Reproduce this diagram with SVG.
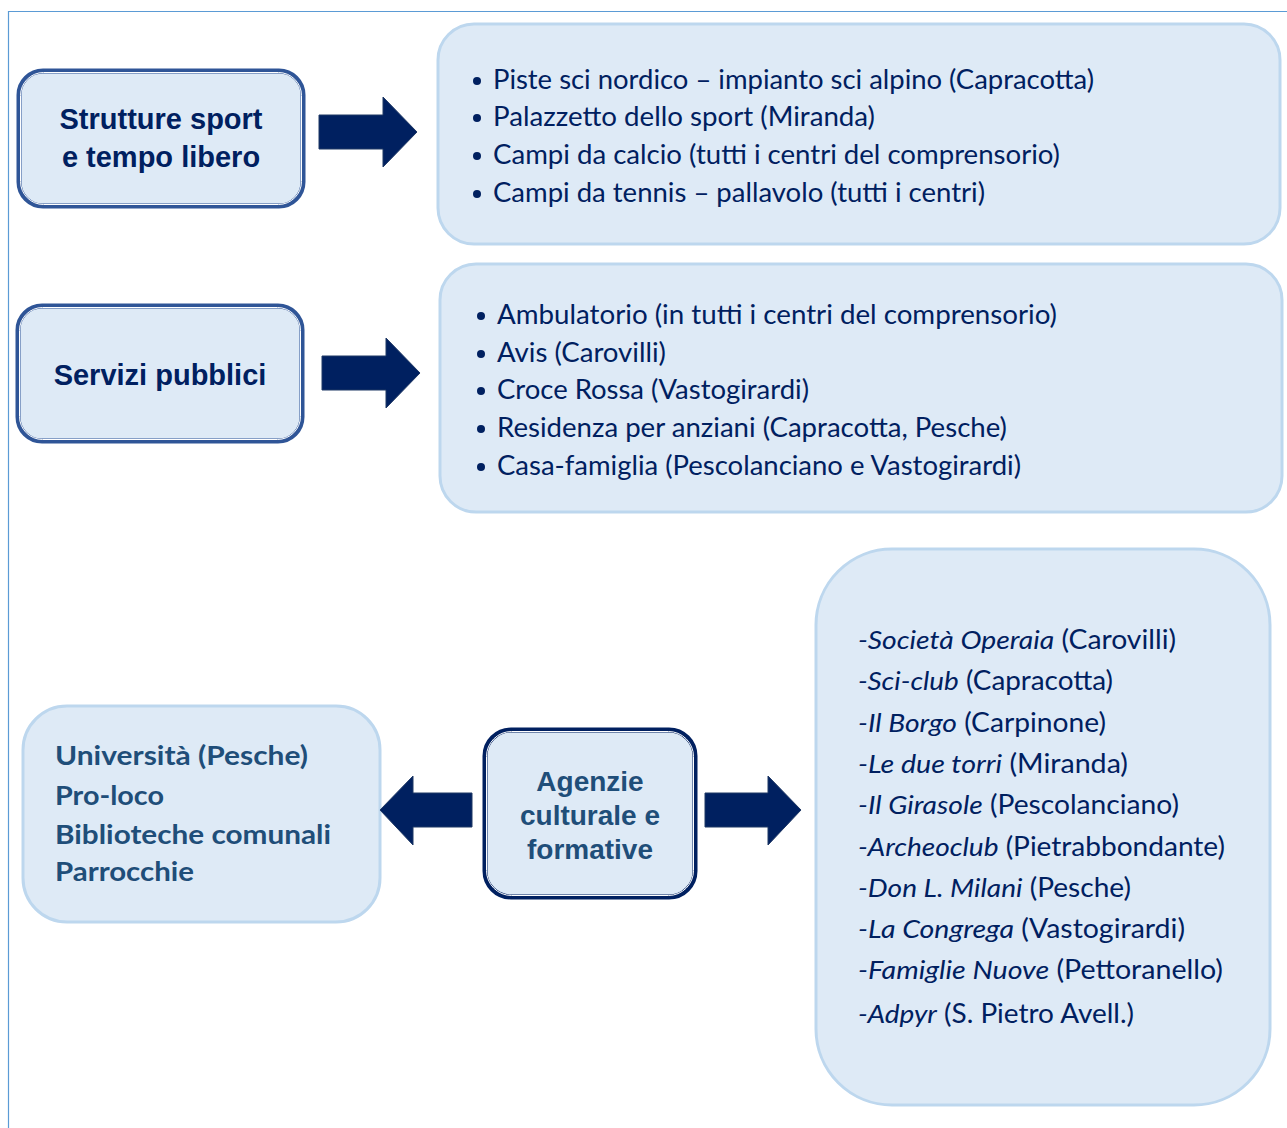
<svg xmlns="http://www.w3.org/2000/svg" width="1287" height="1128" viewBox="0 0 1287 1128">
<style>
.light{fill:#DEEAF6;stroke:#BDD7EE;stroke-width:3}
.dark{fill:#DEEAF6;stroke:#2F5597;stroke-width:5}
.darker{fill:#DEEAF6;stroke:#002060;stroke-width:5}
.gap{fill:none;stroke:#FFFFFF;stroke-width:1}
.head{font-family:"Liberation Sans",Arial,sans-serif;font-weight:bold;font-size:29px;fill:#002060;text-anchor:middle}
.ag{font-family:"Liberation Sans",Arial,sans-serif;font-weight:bold;font-size:28px;fill:#1F4E79;text-anchor:middle}
.list{font-family:Lato,"Open Sans",sans-serif;font-size:26px;fill:#002060}
.sub{font-family:Lato,"Open Sans",sans-serif;font-size:27px;font-weight:bold;fill:#1F4E79}
.bul{fill:#002060}
.arrow{fill:#002060;stroke:#1F3864;stroke-width:1}
</style>
<rect width="1287" height="1128" fill="#FFFFFF"/>
<g id="page-border" fill="none" stroke="#5B9BD5" stroke-width="1.2">
<line x1="8" y1="11.5" x2="1287" y2="11.5"/>
<line x1="8.5" y1="11" x2="8.5" y2="1128"/>
</g>

<g id="node-sport">
<rect class="dark" x="19" y="71" width="284" height="135" rx="24"/>
<rect class="gap" x="20.5" y="72.5" width="281" height="132" rx="23"/>
<text class="head" x="161" y="129">Strutture sport</text>
<text class="head" x="161" y="167">e tempo libero</text>
</g>

<g id="node-sport-list">
<rect class="light" x="438" y="24" width="842" height="220" rx="36"/>
<circle class="bul" cx="477" cy="81" r="4"/>
<circle class="bul" cx="477" cy="118" r="4"/>
<circle class="bul" cx="477" cy="156" r="4"/>
<circle class="bul" cx="477" cy="194" r="4"/>
<text class="list" x="493" y="89" textLength="601" lengthAdjust="spacingAndGlyphs">Piste sci nordico – impianto sci alpino (Capracotta)</text>
<text class="list" x="493" y="126" textLength="382" lengthAdjust="spacingAndGlyphs">Palazzetto dello sport (Miranda)</text>
<text class="list" x="493" y="164" textLength="567" lengthAdjust="spacingAndGlyphs">Campi da calcio (tutti i centri del comprensorio)</text>
<text class="list" x="493" y="202" textLength="492" lengthAdjust="spacingAndGlyphs">Campi da tennis – pallavolo (tutti i centri)</text>
</g>

<g id="node-servizi">
<rect class="dark" x="18" y="306" width="284" height="135" rx="24"/>
<rect class="gap" x="19.5" y="307.5" width="281" height="132" rx="23"/>
<text class="head" x="160" y="385">Servizi pubblici</text>
</g>

<g id="node-servizi-list">
<rect class="light" x="440" y="264" width="842" height="248" rx="36"/>
<circle class="bul" cx="481" cy="316" r="4"/>
<circle class="bul" cx="481" cy="354" r="4"/>
<circle class="bul" cx="481" cy="391" r="4"/>
<circle class="bul" cx="481" cy="429" r="4"/>
<circle class="bul" cx="481" cy="467" r="4"/>
<text class="list" x="497" y="324" textLength="560" lengthAdjust="spacingAndGlyphs">Ambulatorio (in tutti i centri del comprensorio)</text>
<text class="list" x="497" y="362" textLength="169" lengthAdjust="spacingAndGlyphs">Avis (Carovilli)</text>
<text class="list" x="497" y="399" textLength="312" lengthAdjust="spacingAndGlyphs">Croce Rossa (Vastogirardi)</text>
<text class="list" x="497" y="437" textLength="510" lengthAdjust="spacingAndGlyphs">Residenza per anziani (Capracotta, Pesche)</text>
<text class="list" x="497" y="475" textLength="524" lengthAdjust="spacingAndGlyphs">Casa-famiglia (Pescolanciano e Vastogirardi)</text>
</g>

<g id="node-universita">
<rect class="light" x="23" y="706" width="357" height="216" rx="44"/>
<text class="sub" x="55" y="765" textLength="253" lengthAdjust="spacingAndGlyphs">Università (Pesche)</text>
<text class="sub" x="55" y="805" textLength="109" lengthAdjust="spacingAndGlyphs">Pro-loco</text>
<text class="sub" x="55" y="844" textLength="276" lengthAdjust="spacingAndGlyphs">Biblioteche comunali</text>
<text class="sub" x="55" y="881" textLength="139" lengthAdjust="spacingAndGlyphs">Parrocchie</text>
</g>

<g id="node-agenzie">
<rect class="darker" x="485" y="730" width="210" height="167" rx="26"/>
<rect class="gap" x="486.5" y="731.5" width="207" height="164" rx="25"/>
<text class="ag" x="590" y="791">Agenzie</text>
<text class="ag" x="590" y="825">culturale e</text>
<text class="ag" x="590" y="859">formative</text>
</g>

<g id="node-associazioni" class="list">
<rect class="light" x="816" y="549" width="454" height="556" rx="76"/>
<text x="858" y="649" textLength="318" lengthAdjust="spacingAndGlyphs"><tspan font-style="italic">-Società Operaia</tspan> (Carovilli)</text>
<text x="858" y="690" textLength="255" lengthAdjust="spacingAndGlyphs"><tspan font-style="italic">-Sci-club</tspan> (Capracotta)</text>
<text x="858" y="732" textLength="248" lengthAdjust="spacingAndGlyphs"><tspan font-style="italic">-Il Borgo</tspan> (Carpinone)</text>
<text x="858" y="773" textLength="270" lengthAdjust="spacingAndGlyphs"><tspan font-style="italic">-Le due torri</tspan> (Miranda)</text>
<text x="858" y="814" textLength="321" lengthAdjust="spacingAndGlyphs"><tspan font-style="italic">-Il Girasole</tspan> (Pescolanciano)</text>
<text x="858" y="856" textLength="367" lengthAdjust="spacingAndGlyphs"><tspan font-style="italic">-Archeoclub</tspan> (Pietrabbondante)</text>
<text x="858" y="897" textLength="273" lengthAdjust="spacingAndGlyphs"><tspan font-style="italic">-Don L. Milani</tspan> (Pesche)</text>
<text x="858" y="938" textLength="327" lengthAdjust="spacingAndGlyphs"><tspan font-style="italic">-La Congrega</tspan> (Vastogirardi)</text>
<text x="858" y="979" textLength="365" lengthAdjust="spacingAndGlyphs"><tspan font-style="italic">-Famiglie Nuove</tspan> (Pettoranello)</text>
<text x="858" y="1023" textLength="276" lengthAdjust="spacingAndGlyphs"><tspan font-style="italic">-Adpyr</tspan> (S. Pietro Avell.)</text>
</g>

<g id="connectors">
<polygon class="arrow" points="319,115 383,115 383,97 417,132 383,167 383,149 319,149"/>
<polygon class="arrow" points="322,356 386,356 386,338 420,373 386,408 386,390 322,390"/>
<polygon class="arrow" points="472,793 413,793 413,776 380,810 413,845 413,827 472,827"/>
<polygon class="arrow" points="705,793 768,793 768,776 801,810 768,845 768,827 705,827"/>
</g>
</svg>
